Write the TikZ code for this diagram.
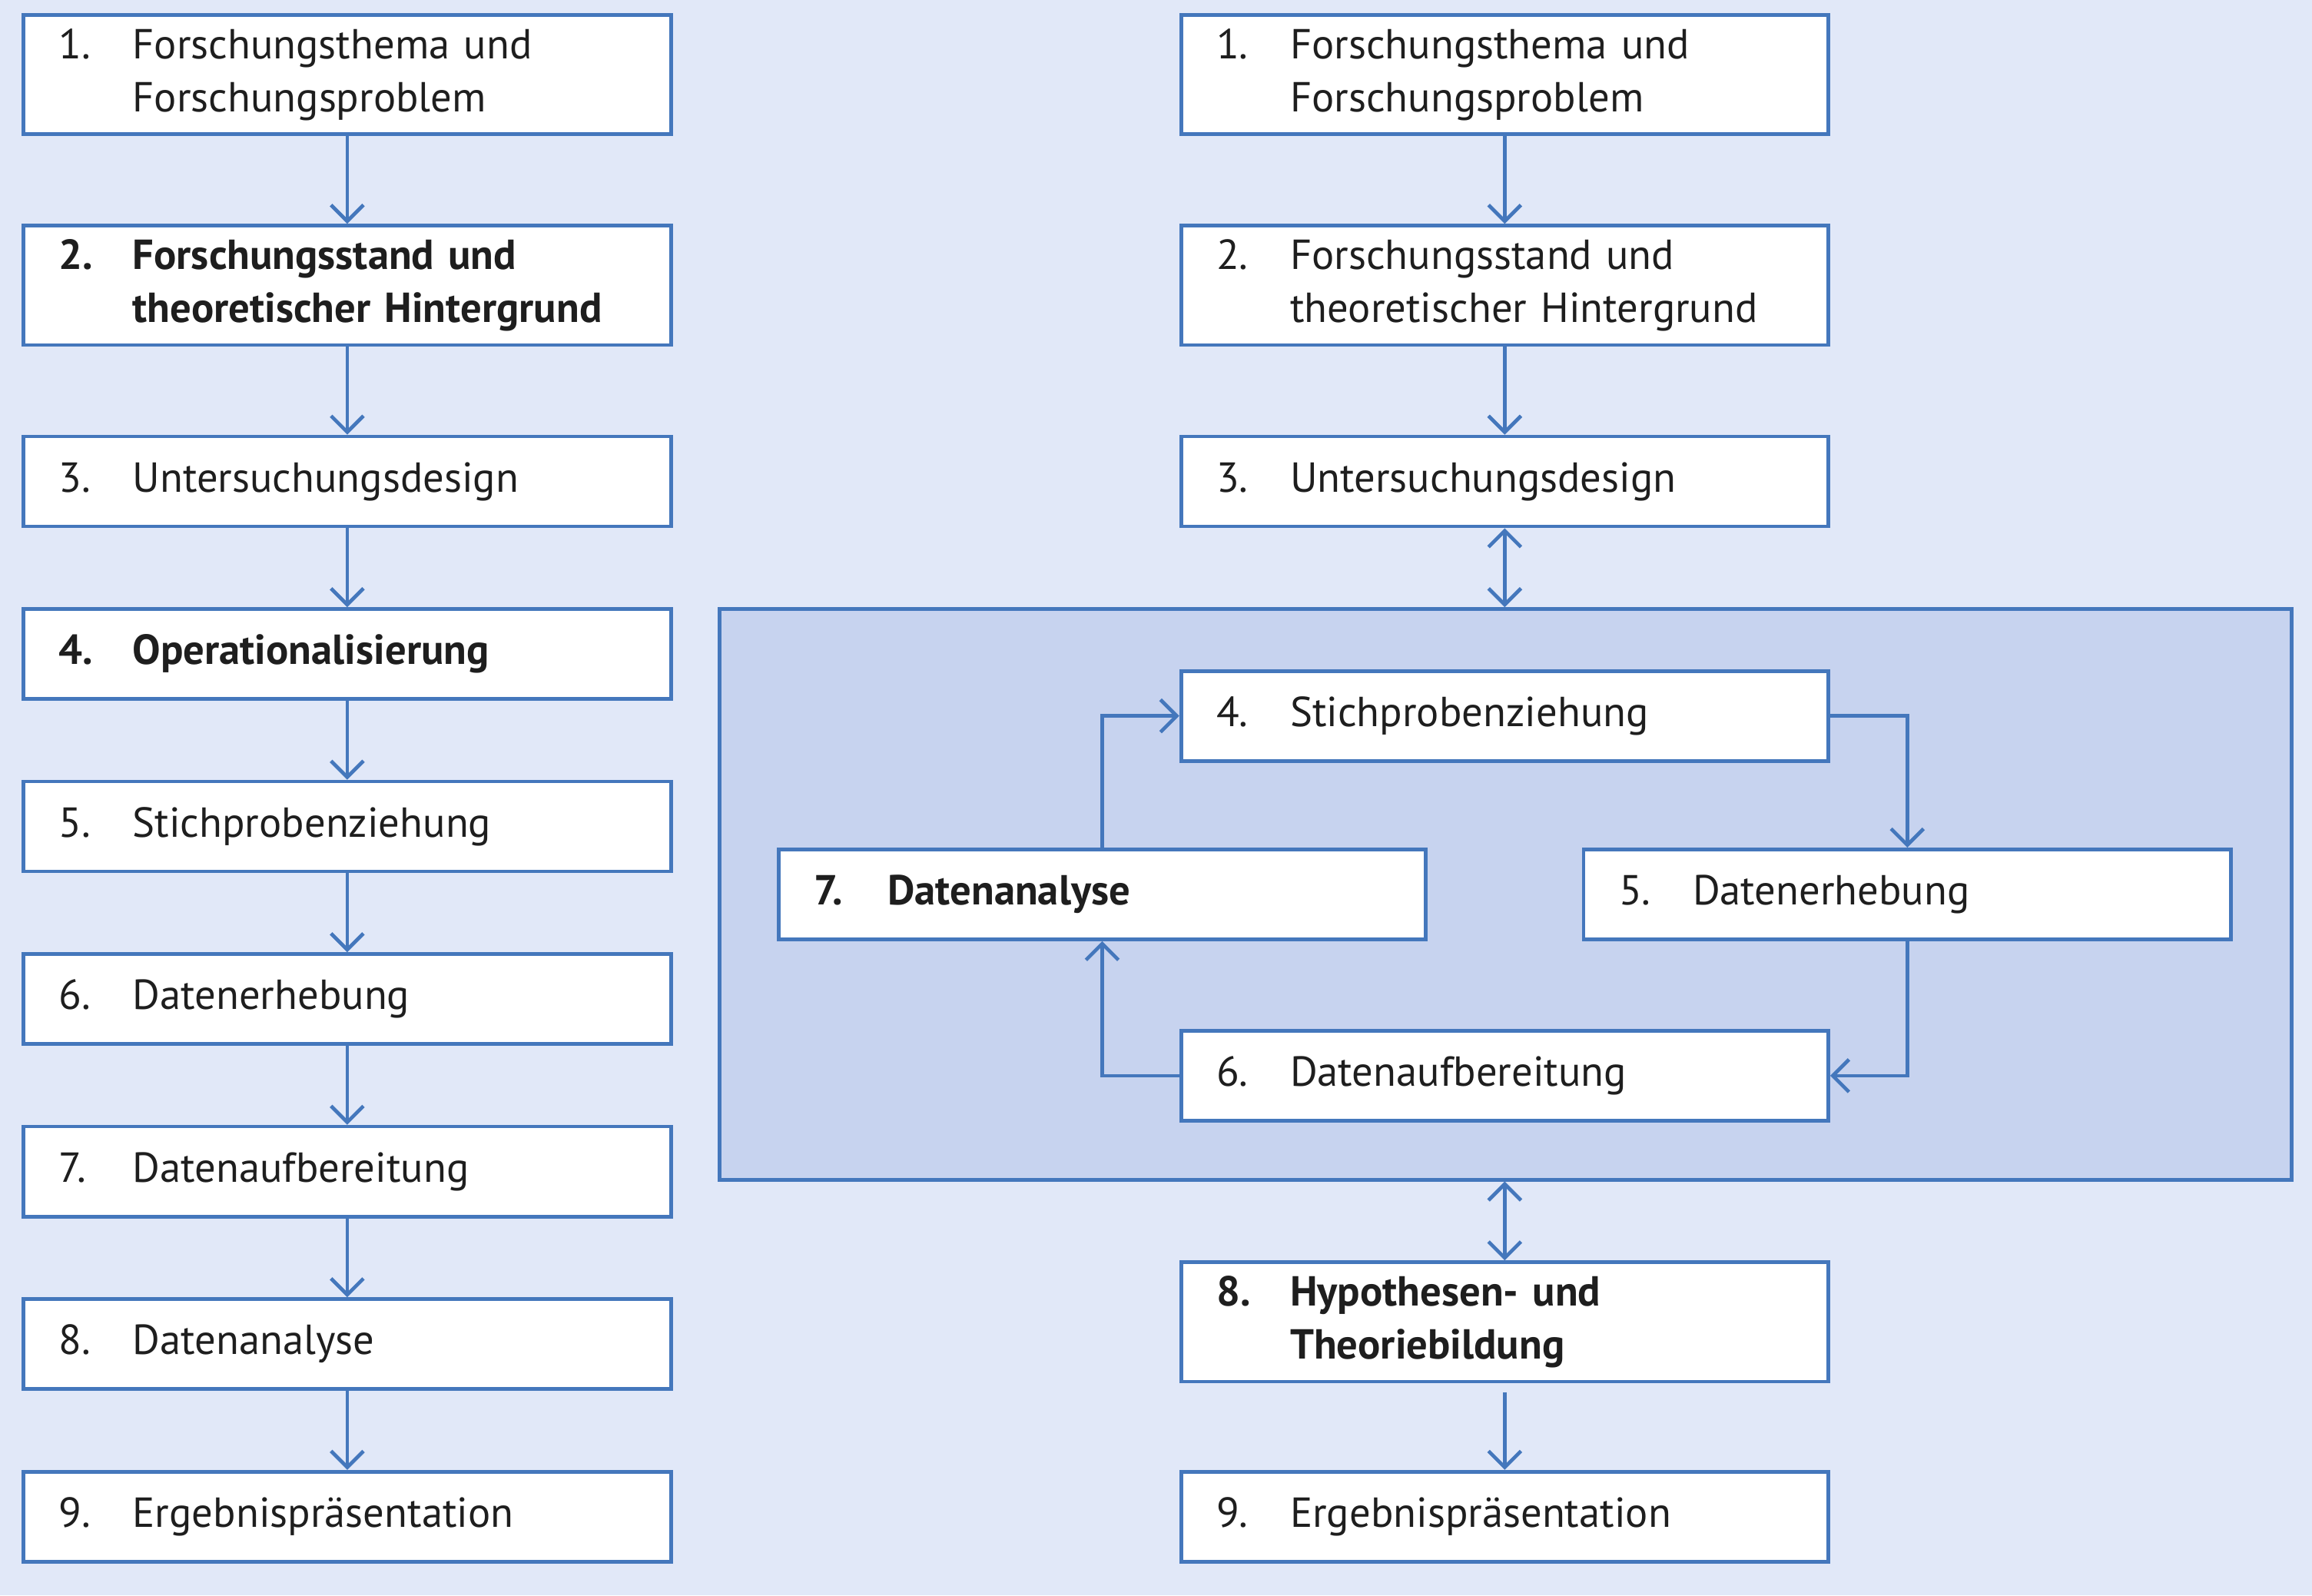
\documentclass[tikz,border=0pt]{standalone}
\usepackage{fontspec}
\setmainfont{PT Sans}
\usetikzlibrary{positioning,arrows.meta}

\definecolor{bgblue}{RGB}{225,232,248}
\definecolor{panelblue}{RGB}{199,211,239}
\definecolor{lineblue}{RGB}{68,119,188}
\definecolor{txtgray}{RGB}{30,30,30}

\newcommand{\nr}[2]{\makebox[5mm][l]{#1}\begin{tabular}[t]{@{}l@{}}#2\end{tabular}}

\begin{document}
\begin{tikzpicture}[>={Straight Barb[length=1.1mm,width=2.2mm]},
    phase/.style={draw=lineblue,line width=0.7pt,fill=white,rectangle,minimum width=4.39cm,minimum height=0.61cm,text width=3.91cm,inner xsep=0.24cm,inner ysep=0pt,align=left,font=\fontsize{8.1}{10.2}\selectfont,text=txtgray},
    twoline/.style={minimum height=0.81cm},
    keyphase/.style={font=\fontsize{8.1}{10.2}\selectfont\bfseries},
    link/.style={->,draw=lineblue,line width=0.7pt}]
    \useasboundingbox[fill=bgblue] (0,0) rectangle (15.68,10.82);

    % linear process
    \node[phase,twoline] (l1) at (2.355,10.315) {\nr{1.}{Forschungsthema und\\Forschungsproblem}};
    \node[phase,twoline,keyphase] (l2) at (2.355,8.885) {\nr{2.}{Forschungsstand und\\theoretischer Hintergrund}};
    \node[phase] (l3) at (2.355,7.555) {\nr{3.}{Untersuchungsdesign}};
    \node[phase,keyphase] (l4) at (2.355,6.385) {\nr{4.}{Operationalisierung}};
    \node[phase] (l5) at (2.355,5.215) {\nr{5.}{Stichprobenziehung}};
    \node[phase] (l6) at (2.355,4.045) {\nr{6.}{Datenerhebung}};
    \node[phase] (l7) at (2.355,2.875) {\nr{7.}{Datenaufbereitung}};
    \node[phase] (l8) at (2.355,1.705) {\nr{8.}{Datenanalyse}};
    \node[phase] (l9) at (2.355,0.535) {\nr{9.}{Ergebnispräsentation}};

    \draw[link] (l1.south) -- (l2.north);
    \draw[link] (l2.south) -- (l3.north);
    \draw[link] (l3.south) -- (l4.north);
    \draw[link] (l4.south) -- (l5.north);
    \draw[link] (l5.south) -- (l6.north);
    \draw[link] (l6.south) -- (l7.north);
    \draw[link] (l7.south) -- (l8.north);
    \draw[link] (l8.south) -- (l9.north);

    % circular process
    \node[draw=lineblue,line width=0.7pt,fill=panelblue,minimum width=10.66cm,minimum height=3.87cm,inner sep=0pt] (panel) at (10.21,4.755) {};

    \node[phase,twoline] (r1) at (10.205,10.315) {\nr{1.}{Forschungsthema und\\Forschungsproblem}};
    \node[phase,twoline] (r2) at (10.205,8.885) {\nr{2.}{Forschungsstand und\\theoretischer Hintergrund}};
    \node[phase] (r3) at (10.205,7.555) {\nr{3.}{Untersuchungsdesign}};
    \node[phase] (r4) at (10.205,5.965) {\nr{4.}{Stichprobenziehung}};
    \node[phase] (r5) at (12.935,4.755) {\nr{5.}{Datenerhebung}};
    \node[phase] (r6) at (10.205,3.525) {\nr{6.}{Datenaufbereitung}};
    \node[phase,keyphase] (r7) at (7.475,4.755) {\nr{7.}{Datenanalyse}};
    \node[phase,twoline,keyphase] (r8) at (10.205,1.855) {\nr{8.}{Hypothesen- und\\Theoriebildung}};
    \node[phase] (r9) at (10.205,0.535) {\nr{9.}{Ergebnispräsentation}};

    \draw[link] (r1.south) -- (r2.north);
    \draw[link] (r2.south) -- (r3.north);
    \draw[link,<->] (r3.south) -- (r3.south |- panel.north);
    \draw[link] (r4.east) -| (r5.north);
    \draw[link] (r5.south) |- (r6.east);
    \draw[link] (r6.west) -| (r7.south);
    \draw[link] (r7.north) |- (r4.west);
    \draw[link,<->] (r8.north |- panel.south) -- (r8.north);
    \draw[link,shorten <=0.06cm] (r8.south) -- (r9.north);
\end{tikzpicture}
\end{document}
